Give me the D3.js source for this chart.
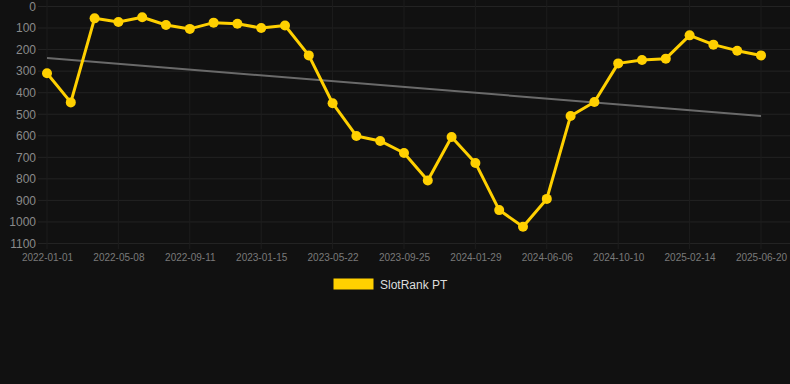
<!DOCTYPE html>
<html>
<head>
<meta charset="utf-8">
<script src="https://cdn.jsdelivr.net/npm/d3@7"></script>
<style>
  html, body { margin: 0; padding: 0; background: #111111; }
  svg { display: block; }
</style>
</head>
<body>
<svg id="chart" width="790" height="384"></svg>
<script>
// ---- data ----
const categories = [
  "2022-01-01","2022-02-12","2022-03-26","2022-05-08","2022-06-19","2022-07-31",
  "2022-09-11","2022-10-23","2022-12-04","2023-01-15","2023-02-26","2023-04-09",
  "2023-05-22","2023-07-03","2023-08-14","2023-09-25","2023-11-06","2023-12-18",
  "2024-01-29","2024-03-11","2024-04-23","2024-06-06","2024-07-18","2024-08-29",
  "2024-10-10","2024-11-21","2025-01-02","2025-02-14","2025-03-28","2025-05-09",
  "2025-06-20"
];
const rankValues = [
  310, 445, 55, 72, 50, 86, 104, 75, 80, 100, 88, 227,
  449, 601, 624, 680, 808, 606, 726, 945, 1022, 893, 508, 443,
  264, 248, 242, 134, 177, 205, 227
];
const trendValues = [239, 508];
const xTickLabels = [
  "2022-01-01","2022-05-08","2022-09-11","2023-01-15","2023-05-22","2023-09-25",
  "2024-01-29","2024-06-06","2024-10-10","2025-02-14","2025-06-20"
];
const yTickValues = [0,100,200,300,400,500,600,700,800,900,1000,1100];
const seriesName = "SlotRank PT";

(function () {
// ---- layout ----
const svg = d3.select("#chart");
const W = 790;
const mLeft = 47, mRight = 761, mTop = 6.5, mBottom = 243.5;
const font = "'Liberation Sans', Arial, sans-serif";

const x = d3.scalePoint().domain(categories).range([mLeft, mRight]);
const y = d3.scaleLinear().domain([0, 1100]).range([mTop, mBottom]);

// grid
const grid = svg.append("g");
grid.selectAll("line.h").data(yTickValues).enter().append("line")
  .attr("x1", 38).attr("x2", W)
  .attr("y1", d => y(d)).attr("y2", d => y(d))
  .attr("stroke", "#232323").attr("stroke-width", 1);
grid.selectAll("line.v").data(xTickLabels).enter().append("line")
  .attr("x1", d => x(d)).attr("x2", d => x(d))
  .attr("y1", 0).attr("y2", 249)
  .attr("stroke", "#1d1d1d").attr("stroke-width", 1);

// y axis
const yAxis = d3.axisLeft(y).tickValues(yTickValues).tickFormat(d3.format("d"))
  .tickSize(0).tickPadding(0);
const gy = svg.append("g").attr("transform", "translate(36,0)").call(yAxis);
gy.select(".domain").remove();
gy.selectAll("text").attr("fill", "#8a8a8a").attr("font-size", 12).attr("font-family", font);

// x axis
const xAxis = d3.axisBottom(x).tickValues(xTickLabels).tickSize(0).tickPadding(0);
const gx = svg.append("g").attr("transform", "translate(0,254)").call(xAxis);
gx.select(".domain").remove();
gx.selectAll("text").attr("fill", "#7a7a7a").attr("font-size", 10).attr("font-family", font);

// trend line
svg.append("line")
  .attr("x1", x(categories[0])).attr("y1", y(trendValues[0]))
  .attr("x2", x(categories[categories.length - 1])).attr("y2", y(trendValues[1]))
  .attr("stroke", "#6a6a6a").attr("stroke-width", 2);

// series line
const pts = categories.map((c, i) => ({ c, v: rankValues[i] }));
const line = d3.line().x(d => x(d.c)).y(d => y(d.v));
svg.append("path").datum(pts)
  .attr("d", line).attr("fill", "none")
  .attr("stroke", "#ffd000").attr("stroke-width", 3)
  .attr("stroke-linejoin", "round");
svg.selectAll("circle.pt").data(pts).enter().append("circle")
  .attr("cx", d => x(d.c)).attr("cy", d => y(d.v)).attr("r", 5)
  .attr("fill", "#ffd000");

// legend
const lg = svg.append("g");
lg.append("rect").attr("x", 333.5).attr("y", 278.5).attr("width", 40).attr("height", 11)
  .attr("fill", "#ffd000");
lg.append("text").attr("x", 380).attr("y", 284.5).attr("dy", "0.35em")
  .attr("fill", "#dddddd").attr("font-size", 12).attr("font-family", font)
  .text(seriesName);
})();
</script>
</body>
</html>
